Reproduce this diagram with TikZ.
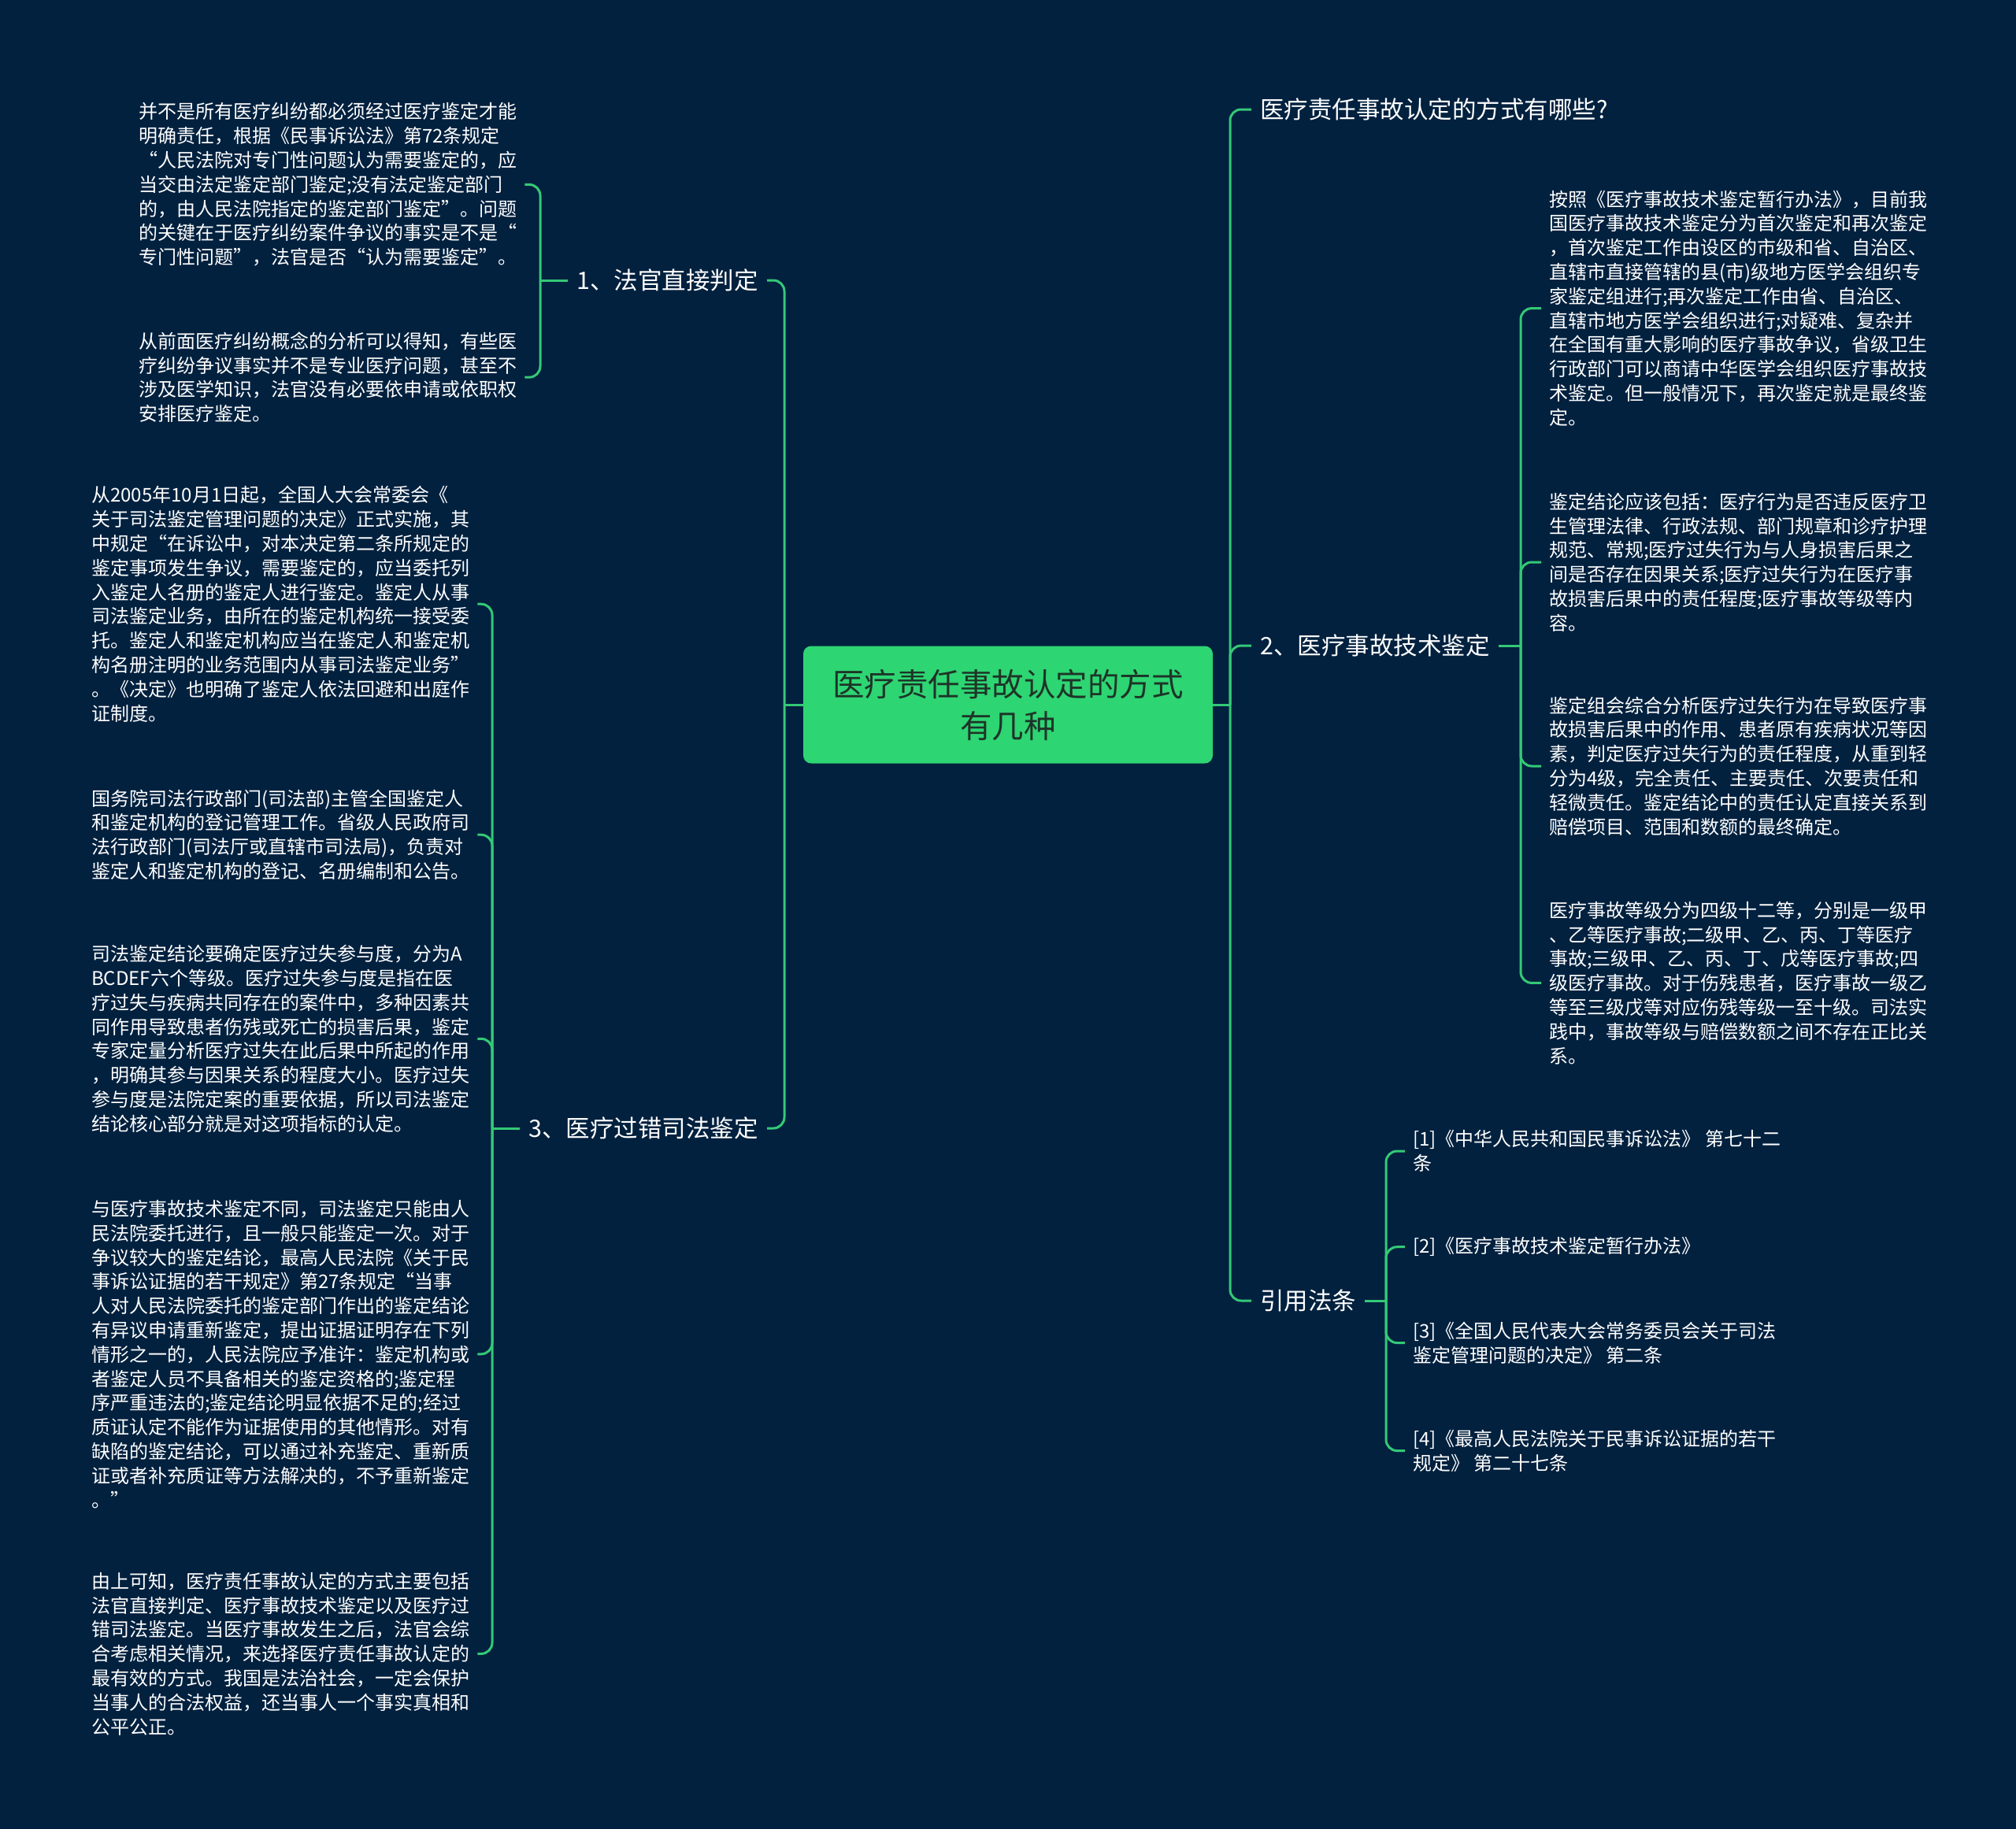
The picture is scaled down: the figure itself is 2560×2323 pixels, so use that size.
\documentclass[tikz,border=0pt]{standalone}
\usepackage{fontspec}
\newfontfamily\cjk{Noto Sans CJK SC}
\definecolor{bg}{RGB}{2,33,63}
\definecolor{gline}{RGB}{52,201,118}
\definecolor{rootfill}{RGB}{46,213,115}
\definecolor{roottext}{RGB}{30,52,40}
\tikzset{
  conn/.style={draw=gline, line width=3pt, rounded corners=14pt},
  rootbox/.style={fill=rootfill, rounded corners=10pt, minimum width=520pt, minimum height=149pt, align=center, text=roottext, font=\cjk\fontsize{40.5}{53}\selectfont, inner sep=0pt},
  branch/.style={text=white, font=\cjk\fontsize{30.5}{36}\selectfont, inner xsep=11pt, inner ysep=4pt},
  para/.style={text=white, align=left, font=\cjk\fontsize{24}{30.8}\selectfont, inner xsep=10pt, inner ysep=0pt},
}
\begin{document}
\begin{tikzpicture}[x=1pt,y=-1pt]
\fill[bg] (0,0) rectangle (2560,2323);
\useasboundingbox (0,0) rectangle (2560,2323);

% root
\node[rootbox] (root) at (1280,895) {医疗责任事故认定的方式\\有几种};

% level 1
\node[branch, anchor=east] (b1) at (974,356) {1、法官直接判定};
\node[branch, anchor=east] (b3) at (974,1433) {3、医疗过错司法鉴定};
\node[branch, anchor=west] (r1) at (1589,139) {医疗责任事故认定的方式有哪些?};
\node[branch, anchor=west] (r2) at (1589,820) {2、医疗事故技术鉴定};
\node[branch, anchor=west] (r3) at (1589,1652) {引用法条};

% left paragraphs
\node[para, anchor=west] (pA) at (166,234.4) {并不是所有医疗纠纷都必须经过医疗鉴定才能\\明确责任，根据《民事诉讼法》第72条规定\\“人民法院对专门性问题认为需要鉴定的，应\\当交由法定鉴定部门鉴定;没有法定鉴定部门\\的，由人民法院指定的鉴定部门鉴定”。问题\\的关键在于医疗纠纷案件争议的事实是不是“\\专门性问题”，法官是否“认为需要鉴定”。};
\node[para, anchor=west] (pB) at (166,479.2) {从前面医疗纠纷概念的分析可以得知，有些医\\疗纠纷争议事实并不是专业医疗问题，甚至不\\涉及医学知识，法官没有必要依申请或依职权\\安排医疗鉴定。};
\node[para, anchor=west] (pC) at (106,767.2) {从2005年10月1日起，全国人大会常委会《\\关于司法鉴定管理问题的决定》正式实施，其\\中规定“在诉讼中，对本决定第二条所规定的\\鉴定事项发生争议，需要鉴定的，应当委托列\\入鉴定人名册的鉴定人进行鉴定。鉴定人从事\\司法鉴定业务，由所在的鉴定机构统一接受委\\托。鉴定人和鉴定机构应当在鉴定人和鉴定机\\构名册注明的业务范围内从事司法鉴定业务”\\。《决定》也明确了鉴定人依法回避和出庭作\\证制度。};
\node[para, anchor=west] (pD) at (106,1060.2) {国务院司法行政部门(司法部)主管全国鉴定人\\和鉴定机构的登记管理工作。省级人民政府司\\法行政部门(司法厅或直辖市司法局)，负责对\\鉴定人和鉴定机构的登记、名册编制和公告。};
\node[para, anchor=west] (pE) at (106,1319.3) {司法鉴定结论要确定医疗过失参与度，分为A\\BCDEF六个等级。医疗过失参与度是指在医\\疗过失与疾病共同存在的案件中，多种因素共\\同作用导致患者伤残或死亡的损害后果，鉴定\\专家定量分析医疗过失在此后果中所起的作用\\，明确其参与因果关系的程度大小。医疗过失\\参与度是法院定案的重要依据，所以司法鉴定\\结论核心部分就是对这项指标的认定。};
\node[para, anchor=west] (pF) at (106,1719.8) {与医疗事故技术鉴定不同，司法鉴定只能由人\\民法院委托进行，且一般只能鉴定一次。对于\\争议较大的鉴定结论，最高人民法院《关于民\\事诉讼证据的若干规定》第27条规定“当事\\人对人民法院委托的鉴定部门作出的鉴定结论\\有异议申请重新鉴定，提出证据证明存在下列\\情形之一的，人民法院应予准许：鉴定机构或\\者鉴定人员不具备相关的鉴定资格的;鉴定程\\序严重违法的;鉴定结论明显依据不足的;经过\\质证认定不能作为证据使用的其他情形。对有\\缺陷的鉴定结论，可以通过补充鉴定、重新质\\证或者补充质证等方法解决的，不予重新鉴定\\。”};
\node[para, anchor=west] (pG) at (106,2100.4) {由上可知，医疗责任事故认定的方式主要包括\\法官直接判定、医疗事故技术鉴定以及医疗过\\错司法鉴定。当医疗事故发生之后，法官会综\\合考虑相关情况，来选择医疗责任事故认定的\\最有效的方式。我国是法治社会，一定会保护\\当事人的合法权益，还当事人一个事实真相和\\公平公正。};

% right paragraphs
\node[para, anchor=west] (q1) at (1957,391.6) {按照《医疗事故技术鉴定暂行办法》，目前我\\国医疗事故技术鉴定分为首次鉴定和再次鉴定\\，首次鉴定工作由设区的市级和省、自治区、\\直辖市直接管辖的县(市)级地方医学会组织专\\家鉴定组进行;再次鉴定工作由省、自治区、\\直辖市地方医学会组织进行;对疑难、复杂并\\在全国有重大影响的医疗事故争议，省级卫生\\行政部门可以商请中华医学会组织医疗事故技\\术鉴定。但一般情况下，再次鉴定就是最终鉴\\定。};
\node[para, anchor=west] (q2) at (1957,714) {鉴定结论应该包括：医疗行为是否违反医疗卫\\生管理法律、行政法规、部门规章和诊疗护理\\规范、常规;医疗过失行为与人身损害后果之\\间是否存在因果关系;医疗过失行为在医疗事\\故损害后果中的责任程度;医疗事故等级等内\\容。};
\node[para, anchor=west] (q3) at (1957,973) {鉴定组会综合分析医疗过失行为在导致医疗事\\故损害后果中的作用、患者原有疾病状况等因\\素，判定医疗过失行为的责任程度，从重到轻\\分为4级，完全责任、主要责任、次要责任和\\轻微责任。鉴定结论中的责任认定直接关系到\\赔偿项目、范围和数额的最终确定。};
\node[para, anchor=west] (q4) at (1957,1248.4) {医疗事故等级分为四级十二等，分别是一级甲\\、乙等医疗事故;二级甲、乙、丙、丁等医疗\\事故;三级甲、乙、丙、丁、戊等医疗事故;四\\级医疗事故。对于伤残患者，医疗事故一级乙\\等至三级戊等对应伤残等级一至十级。司法实\\践中，事故等级与赔偿数额之间不存在正比关\\系。};

% references
\node[para, anchor=west] (f1) at (1784,1462) {[1]《中华人民共和国民事诉讼法》 第七十二\\条};
\node[para, anchor=west] (f2) at (1784,1583.7) {[2]《医疗事故技术鉴定暂行办法》};
\node[para, anchor=west] (f3) at (1784,1705.5) {[3]《全国人民代表大会常务委员会关于司法\\鉴定管理问题的决定》 第二条};
\node[para, anchor=west] (f4) at (1784,1842.5) {[4]《最高人民法院关于民事诉讼证据的若干\\规定》 第二十七条};

% junctions
\coordinate (jL) at (996,895);
\coordinate (jR) at (1562,895);
\coordinate (j1) at (686,356);
\coordinate (j3) at (625,1433);
\coordinate (j2) at (1931,820);
\coordinate (jF) at (1760,1652);

% connectors
\draw[conn] (root.west) -- (jL);
\draw[conn] (jL) |- (b1.east);
\draw[conn] (jL) |- (b3.east);
\draw[conn] (root.east) -- (jR);
\draw[conn] (jR) |- (r1.west);
\draw[conn] (jR) |- (r2.west);
\draw[conn] (jR) |- (r3.west);

\draw[conn] (b1.west) -- (j1);
\draw[conn] (j1) |- (pA.east);
\draw[conn] (j1) |- (pB.east);

\draw[conn] (b3.west) -- (j3);
\foreach \c in {pC,pD,pE,pF,pG} \draw[conn] (j3) |- (\c.east);

\draw[conn] (r2.east) -- (j2);
\foreach \c in {q1,q2,q3,q4} \draw[conn] (j2) |- (\c.west);

\draw[conn] (r3.east) -- (jF);
\foreach \c in {f1,f2,f3,f4} \draw[conn] (jF) |- (\c.west);
\end{tikzpicture}
\end{document}
